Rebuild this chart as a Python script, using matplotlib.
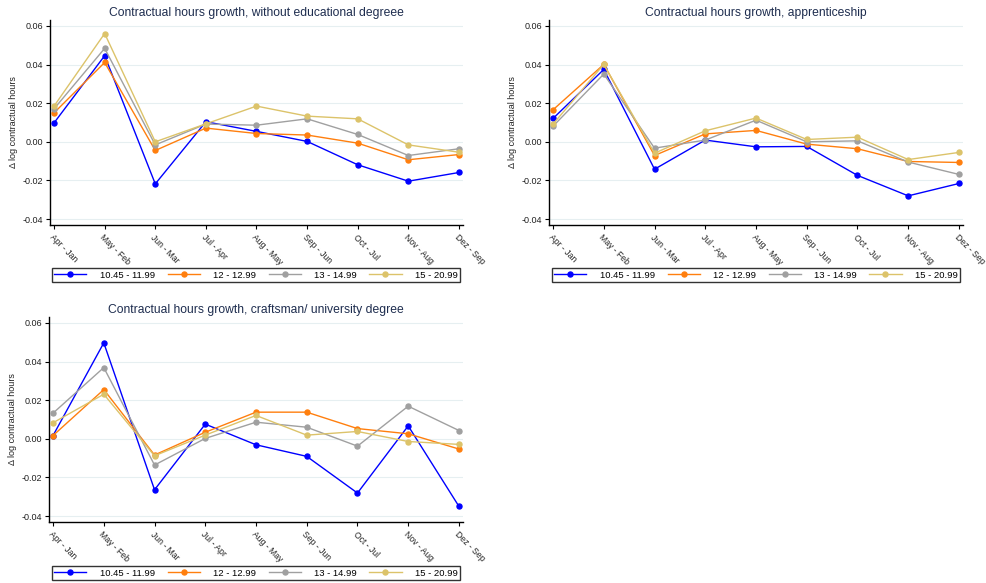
import matplotlib
matplotlib.use("Agg")
import matplotlib.pyplot as plt

# categories and series
periods = ["Apr - Jan", "May - Feb", "Jun - Mar", "Jul - Apr", "Aug - May",
           "Sep - Jun", "Oct - Jul", "Nov - Aug", "Dez - Sep"]
wage_groups = ["10.45 - 11.99", "12 - 12.99", "13 - 14.99", "15 - 20.99"]

no_degree_1045 = [0.0098, 0.0446, -0.0218, 0.0104, 0.0054, 0.0002, -0.0119, -0.0204, -0.0159]
no_degree_12 = [0.0150, 0.0411, -0.0045, 0.0071, 0.0043, 0.0035, -0.0007, -0.0093, -0.0066]
no_degree_13 = [0.0171, 0.0484, -0.0016, 0.0092, 0.0086, 0.0119, 0.0038, -0.0071, -0.0036]
no_degree_15 = [0.0185, 0.0561, 0.0000, 0.0093, 0.0185, 0.0133, 0.0119, -0.0016, -0.0054]

appr_1045 = [0.0121, 0.0375, -0.0142, 0.0009, -0.0026, -0.0024, -0.0174, -0.0280, -0.0216]
appr_12 = [0.0166, 0.0401, -0.0071, 0.0041, 0.0059, -0.0012, -0.0036, -0.0102, -0.0107]
appr_13 = [0.0081, 0.0351, -0.0033, 0.0009, 0.0112, 0.0000, 0.0005, -0.0105, -0.0169]
appr_15 = [0.0092, 0.0401, -0.0059, 0.0057, 0.0123, 0.0012, 0.0024, -0.0092, -0.0055]

univ_1045 = [0.0017, 0.0497, -0.0264, 0.0076, -0.0031, -0.0091, -0.0281, 0.0067, -0.0350]
univ_12 = [0.0017, 0.0255, -0.0084, 0.0034, 0.0138, 0.0138, 0.0053, 0.0026, -0.0053]
univ_13 = [0.0133, 0.0369, -0.0136, 0.0002, 0.0086, 0.0060, -0.0038, 0.0169, 0.0043]
univ_15 = [0.0083, 0.0231, -0.0088, 0.0019, 0.0121, 0.0019, 0.0038, -0.0014, -0.0029]

yticks = [-0.04, -0.02, 0.00, 0.02, 0.04, 0.06]

COLORS = ["#0000ff", "#ff7f0e", "#a0a0a0", "#dcc36a"]
TITLE_COLOR = "#1e2d4f"

plt.rcParams["font.family"] = ["Liberation Sans", "DejaVu Sans"]

W, H = 987, 583
fig = plt.figure(figsize=(W / 100, H / 100), dpi=100)
fig.patch.set_facecolor("white")


def px_axes(left, right, top, bottom):
    return fig.add_axes([left / W, 1 - bottom / H, (right - left) / W, (bottom - top) / H])


def draw_panel(ax, title, series, legend_box):
    x = list(range(len(periods)))
    for vals, color, label in zip(series, COLORS, wage_groups):
        ax.plot(x, vals, color=color, lw=1.0, marker="o", ms=3.6, label=label, zorder=3)

    ax.set_xlim(-0.08, 8.08)
    ax.set_ylim(-0.0431, 0.0631)
    ax.set_yticks(yticks)
    ax.set_yticklabels([f"{v:.2f}" for v in yticks], fontsize=6.5, color="#222222")
    ax.set_xticks(x)
    ax.set_xticklabels(periods, fontsize=6.2, rotation=-45, ha="left", va="top",
                       rotation_mode="anchor", color="#222222")
    ax.tick_params(axis="both", direction="out", length=3, width=0.8, pad=2)
    ax.tick_params(axis="x", pad=2.5)
    ax.set_ylabel("\u0394 log contractual hours", fontsize=6.5, color="#222222", labelpad=3)
    ax.set_title(title, fontsize=8.7, color=TITLE_COLOR, pad=3)

    for s in ["top", "right"]:
        ax.spines[s].set_visible(False)
    for s in ["left", "bottom"]:
        ax.spines[s].set_linewidth(1.0)
        ax.spines[s].set_color("black")
    ax.grid(True, axis="y", color="#e6eff1", lw=0.8, zorder=0)
    ax.set_axisbelow(True)

    l, r, t, b = legend_box
    leg = fig.legend(*ax.get_legend_handles_labels(), loc="lower left",
                     bbox_to_anchor=(l / W, 1 - b / H, (r - l) / W, (b - t) / H),
                     mode="expand", ncol=4, fontsize=6.8, frameon=True, fancybox=False,
                     handlelength=3.4, handletextpad=1.4, borderpad=0.25,
                     borderaxespad=0, columnspacing=1.0)
    leg.get_frame().set_edgecolor("black")
    leg.get_frame().set_linewidth(1.0)


ax1 = px_axes(50, 463, 20, 225)
draw_panel(ax1, "Contractual hours growth, without educational degreee",
           [no_degree_1045, no_degree_12, no_degree_13, no_degree_15], (52, 460, 266, 282))

ax2 = px_axes(549, 963, 20, 225)
draw_panel(ax2, "Contractual hours growth, apprenticeship",
           [appr_1045, appr_12, appr_13, appr_15], (552, 960, 266, 282))

ax3 = px_axes(49, 463, 317, 522)
draw_panel(ax3, "Contractual hours growth, craftsman/ university degree",
           [univ_1045, univ_12, univ_13, univ_15], (52, 460, 564, 580))

fig.savefig("out.png", dpi=100, facecolor="white")
